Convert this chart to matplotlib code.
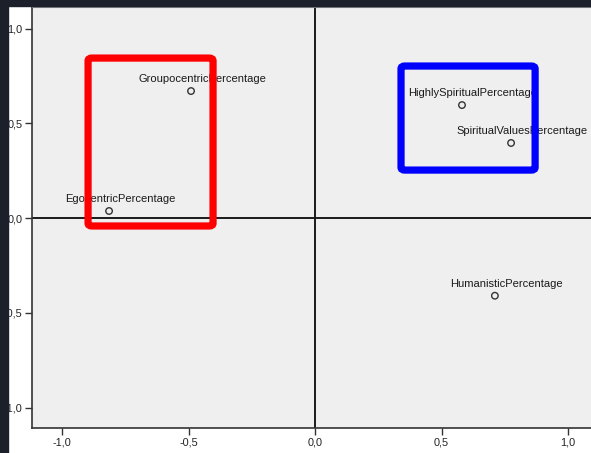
import matplotlib
matplotlib.use("Agg")
import matplotlib.pyplot as plt
from matplotlib.patches import FancyBboxPatch, Rectangle

# Data
labels = ["GroupocentricPercentage", "EgocentricPercentage", "HighlySpiritualPercentage",
          "SpiritualValuesPercentage", "HumanisticPercentage"]
dim1 = [-0.49, -0.814, 0.581, 0.775, 0.711]
dim2 = [0.67, 0.037, 0.596, 0.396, -0.41]
ticks = [-1.0, -0.5, 0.0, 0.5, 1.0]
tick_labels = ["-1,0", "-0,5", "0,0", "0,5", "1,0"]

# Highlight regions (x0, x1, y0, y1) in data units
red_box = [-0.897, -0.403, -0.042, 0.844]
blue_box = [0.340, 0.870, 0.253, 0.802]

W, H = 591, 453
fig = plt.figure(figsize=(W / 100, H / 100), dpi=100, facecolor="white")
ax = fig.add_axes([32 / W, (H - 428) / H, (W - 32) / W, 421 / H])
ax.set_facecolor("#efefef")
ax.set_xlim(-1.1186, 1.0909)
ax.set_ylim(-1.108, 1.1135)

ax.axvline(0, color="#1a1a1a", lw=1.4, zorder=1)
ax.axhline(0, color="#1a1a1a", lw=1.4, zorder=1)

ax.scatter(dim1, dim2, s=22, facecolors="none", edgecolors="#333333", linewidths=1.0, zorder=3)
for lab, x, y in zip(labels, dim1, dim2):
    ax.annotate(lab, (x, y), xytext=(8, 8.6), textcoords="offset points",
                ha="center", va="center", fontsize=8.0, family="Liberation Sans",
                color="#1a1a1a", zorder=4)

ax.set_xticks(ticks)
ax.set_xticklabels(tick_labels, family="Liberation Sans", fontsize=7.8, color="#222222")
ax.set_yticks(ticks)
ax.set_yticklabels(tick_labels, family="Liberation Sans", fontsize=7.8, color="#222222")
ax.tick_params(length=5, width=1, color="#333333", pad=2)

for side in ["left", "bottom"]:
    ax.spines[side].set_color("#333333")
    ax.spines[side].set_linewidth(1.2)
ax.spines["top"].set_color("#888888")
ax.spines["right"].set_visible(False)

for box, col in [(red_box, "#ff0000"), (blue_box, "#0000ff")]:
    x0, x1, y0, y1 = box
    p = FancyBboxPatch((x0, y0), x1 - x0, y1 - y0,
                       boxstyle="round,pad=0,rounding_size=0.015",
                       fill=False, edgecolor=col, lw=5.2, zorder=6)
    ax.add_patch(p)

# Dark frame bands (screenshot border)
fig.add_artist(Rectangle((0, 0), 8 / W, 1, transform=fig.transFigure,
                         color="#1b202b", zorder=10))
fig.add_artist(Rectangle((0, 1 - 6 / H), 1, 6 / H, transform=fig.transFigure,
                         color="#1b202b", zorder=10))

fig.savefig("out.png", dpi=100, facecolor="white")
